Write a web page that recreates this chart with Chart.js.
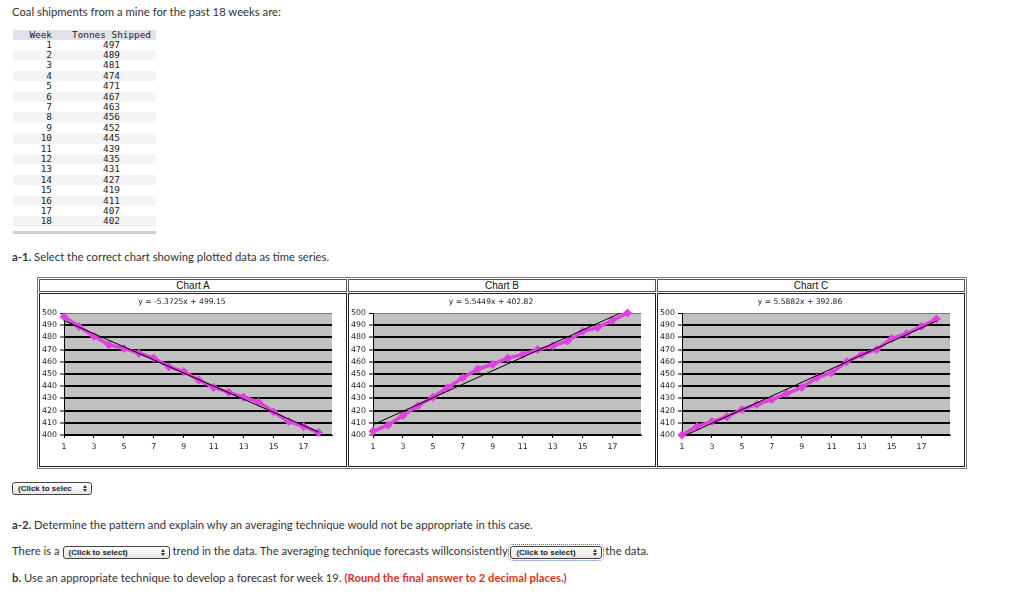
<!DOCTYPE html>
<html>
<head>
<meta charset="utf-8">
<title>Coal shipments</title>
<script src="https://cdn.jsdelivr.net/npm/chart.js@4.4.1/dist/chart.umd.min.js"></script>
<style>
  body { margin: 0; width: 1024px; height: 593px; background: #fff; position: relative; overflow: hidden;
         font-family: Lato, 'Open Sans', sans-serif; font-size: 11.3px; color: #333; }
  .txt { position: absolute; left: 12px; white-space: nowrap; line-height: 14px; }
  .red { color: #e0301e; font-weight: bold; }
  #data { position: absolute; left: 13px; top: 30px; border-collapse: collapse;
          font-family: 'DejaVu Sans Mono', monospace; font-size: 9.4px; color: #222; }
  #data th { background: #e0e3ea; font-weight: normal; height: 9.5px; line-height: 9.5px; padding: 0; }
  #data td { height: 10.4px; line-height: 10.4px; padding: 0; }
  #data tbody tr:nth-child(even) td { background: #f4f4f4; }
  #data .c1 { width: 39px; padding-right: 15px; text-align: right; }
  #data .c2 { width: 89px; text-align: center; }
  #bar { position: absolute; left: 13px; top: 231px; width: 143px; height: 3px; background: #c9ced8; }
  #charts { position: absolute; left: 37px; top: 277px; border: 1px solid #777; border-spacing: 1px; }
  #charts td { padding: 0; border: 1px solid #555; }
  #charts .ttl { height: 11px; line-height: 11px; text-align: center; width: 306px;
                 font-family: 'Liberation Sans', Arial, sans-serif; font-size: 10px; color: #111; }
  #charts .pic { height: 172px; border-color: #222; }
  #charts canvas { display: block; }
  .sel { display: inline-block; position: relative; box-sizing: border-box; height: 13px; line-height: 11px;
         border: 1px solid #444; border-radius: 3px; background: linear-gradient(#fff, #e6e6e6);
         font-family: 'Liberation Sans', Arial, sans-serif; font-size: 8px; font-weight: bold; color: #222;
         padding-left: 5px; overflow: hidden; white-space: nowrap; vertical-align: middle; }
  .sel::after { content: ''; position: absolute; right: 4px; top: 2px; border: 2px solid transparent;
                border-bottom: 3px solid #333; border-top: 0; }
  .sel::before { content: ''; position: absolute; right: 4px; top: 6px; border: 2px solid transparent;
                 border-top: 3px solid #333; border-bottom: 0; }
  .focus { outline: 1px dotted #3a78d0; outline-offset: 1px; }
</style>
</head>
<body>
<div class="txt" style="top:5px">Coal shipments from a mine for the past 18 weeks are:</div>

<table id="data">
  <thead><tr><th class="c1">Week</th><th class="c2">Tonnes Shipped</th></tr></thead>
  <tbody id="rows"></tbody>
</table>
<div id="bar"></div>

<div class="txt" style="top:250px"><b>a-1.</b> Select the correct chart showing plotted data as time series.</div>

<table id="charts">
  <tr><td class="ttl">Chart A</td><td class="ttl">Chart B</td><td class="ttl">Chart C</td></tr>
  <tr>
    <td class="pic"><canvas id="chartA" width="306" height="172"></canvas></td>
    <td class="pic"><canvas id="chartB" width="306" height="172"></canvas></td>
    <td class="pic"><canvas id="chartC" width="306" height="172"></canvas></td>
  </tr>
</table>

<div class="sel" style="position:absolute; left:12px; top:482px; width:80px;">(Click to selec</div>

<div class="txt" style="top:518px"><b>a-2.</b> Determine the pattern and explain why an averaging technique would not be appropriate in this case.</div>
<div class="txt" style="top:544px">There is a <span class="sel" style="width:107px">(Click to select)</span> trend in the data. The averaging technique forecasts willconsistently <span class="sel focus" style="width:92px">(Click to select)</span> the data.</div>
<div class="txt" style="top:571px"><b>b.</b> Use an appropriate technique to develop a forecast for week 19. <span class="red">(Round the final answer to 2 decimal places.)</span></div>

<script>
const weeks = [1, 2, 3, 4, 5, 6, 7, 8, 9, 10, 11, 12, 13, 14, 15, 16, 17, 18];
const tonnes = [497, 489, 481, 474, 471, 467, 463, 456, 452, 445, 439, 435, 431, 427, 419, 411, 407, 402];
const valuesB = [403, 408, 416, 424, 431, 439, 447, 454, 458, 463, 466, 470, 473, 477, 485, 488, 494, 500];
const valuesC = [400, 407, 411, 415, 421, 425, 429, 434, 439, 447, 451, 460, 466, 470, 479, 483, 489, 495];
const trendSlopes = [-5.3725, 5.5449, 5.5882];
const trendIntercepts = [499.15, 402.82, 392.86];
const equations = ['y = -5.3725x + 499.15', 'y = 5.5449x + 402.82', 'y = 5.5882x + 392.86'];
const xTicks = [1, 3, 5, 7, 9, 11, 13, 15, 17];
const yMin = 400, yMax = 500, yStep = 10;

// data table
const tbody = document.getElementById('rows');
for (let i = 0; i < weeks.length; i++) {
  const tr = document.createElement('tr');
  tr.innerHTML = '<td class="c1">' + weeks[i] + '</td><td class="c2">' + tonnes[i] + '</td>';
  tbody.appendChild(tr);
}

// grey plot area like the old excel charts
const plotBg = {
  id: 'plotBg',
  beforeDraw(chart) {
    const { ctx, chartArea: a } = chart;
    ctx.save();
    ctx.fillStyle = '#c0c0c0';
    ctx.fillRect(a.left, a.top, a.right - a.left, a.bottom - a.top);
    ctx.restore();
  }
};

// trendline equation above the plot
const eqLabel = {
  id: 'eqLabel',
  afterDraw(chart, args, opts) {
    const { ctx, chartArea: a } = chart;
    ctx.save();
    ctx.font = '7.6px "DejaVu Sans"';
    ctx.fillStyle = '#222';
    ctx.textAlign = 'center';
    ctx.textBaseline = 'middle';
    ctx.fillText(opts.text, (a.left + a.right) / 2 - 16, a.top - 11);
    ctx.restore();
  }
};

const tickFont = { family: 'DejaVu Sans', size: 7.8 };

function makeChart(id, values, k) {
  const pts = weeks.map((w, i) => ({ x: w, y: values[i] }));
  const first = weeks[0], last = weeks[weeks.length - 1];
  const trend = [
    { x: first, y: trendSlopes[k] * first + trendIntercepts[k] },
    { x: last, y: trendSlopes[k] * last + trendIntercepts[k] }
  ];
  return new Chart(document.getElementById(id), {
    type: 'line',
    data: {
      datasets: [{
        data: pts,
        borderColor: '#e040e0',
        backgroundColor: '#e040e0',
        borderWidth: 3.5,
        pointStyle: 'rectRot',
        pointRadius: 4.5,
        pointBorderWidth: 0,
        clip: false,
        order: 2
      }, {
        data: trend,
        borderColor: '#000',
        borderWidth: 1,
        pointRadius: 0,
        clip: 0,
        order: 1
      }]
    },
    options: {
      responsive: false,
      animation: false,
      events: [],
      layout: { padding: { top: 19, right: 14, left: 0, bottom: 0 } },
      plugins: {
        legend: { display: false },
        tooltip: { enabled: false },
        eqLabel: { text: equations[k] }
      },
      scales: {
        x: {
          type: 'linear',
          min: 1,
          max: 18.9,
          afterBuildTicks: s => { s.ticks = xTicks.map(v => ({ value: v })); },
          afterFit: s => { s.height = 31; },
          grid: { drawOnChartArea: false, color: '#000', tickLength: 3 },
          border: { color: '#000', width: 1 },
          ticks: { font: tickFont, color: '#222', padding: 4, maxRotation: 0, autoSkip: false }
        },
        y: {
          min: yMin,
          max: yMax,
          afterFit: s => { s.width = 24; },
          grid: {
            color: c => (c.tick && c.tick.value === yMax ? '#7a7a7a' : '#000'),
            lineWidth: c => (c.tick && c.tick.value === yMax ? 1 : 2),
            tickColor: '#000',
            tickWidth: 1,
            tickLength: 4
          },
          border: { color: '#000', width: 1 },
          ticks: { stepSize: yStep, font: tickFont, color: '#222', padding: 3, autoSkip: false }
        }
      }
    },
    plugins: [plotBg, eqLabel]
  });
}

makeChart('chartA', tonnes, 0);
makeChart('chartB', valuesB, 1);
makeChart('chartC', valuesC, 2);
</script>
</body>
</html>
